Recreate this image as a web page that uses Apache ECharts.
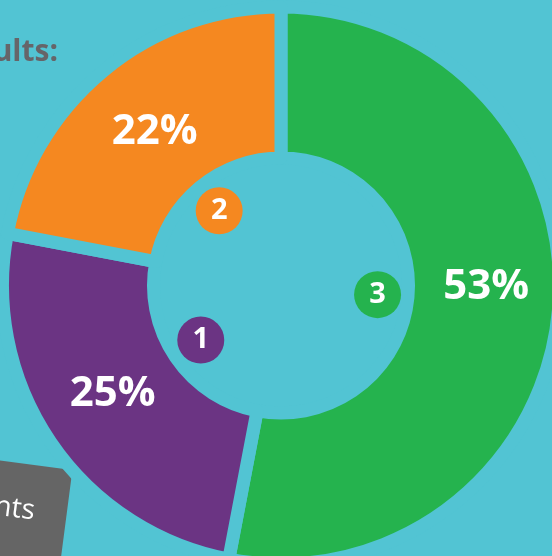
<!DOCTYPE html>
<html>
<head>
<meta charset="utf-8">
<script src="https://cdn.jsdelivr.net/npm/echarts@6/dist/echarts.min.js"></script>
<style>
    html, body { margin: 0; padding: 0; background: #52c4d3; }
    #chart { width: 552px; height: 556px; }
</style>
</head>
<body>
<div id="chart"></div>
<script>
// slices, clockwise from 12 o'clock
var badges = ['3', '1', '2'],
    shares = [53, 25, 22],
    colors = ['#25b34e', '#6b3483', '#f58820'];

var bg = '#52c4d3',
    cx = 281, cy = 285.5,
    total = shares.reduce(function (a, b) { return a + b; }, 0);

// badge points sit in the hole, at each slice's middle angle
var acc = 0,
    badgeData = shares.map(function (v, i) {
        var mid = acc + v / 2;
        acc += v;
        return {
            value: [97, mid / total * 100],
            itemStyle: {color: colors[i]},
            label: {formatter: badges[i]}
        };
    });

// nudge the big percentage labels a bit, like the original
var labelNudge = [[0, -18], [2, -7], [5, 5]];

var chart = echarts.init(document.getElementById('chart'));

chart.setOption({
    backgroundColor: bg,
    animation: false,
    polar: {center: [cx, cy], radius: 280},
    angleAxis: {type: 'value', min: 0, max: 100, startAngle: 90, clockwise: true, show: false},
    radiusAxis: {type: 'value', min: 0, max: 280, show: false},
    graphic: [
        {
            type: 'text', x: 58, y: 67,
            style: {
                text: 'Results:', fill: '#666569', font: 'bold 30px "Open Sans"',
                align: 'right', verticalAlign: 'bottom'
            }
        },
        {
            type: 'group', x: 3, y: 461, rotation: -0.13,
            children: [
                {type: 'rect', shape: {x: -200, y: 0, width: 270, height: 200, r: 10}, style: {fill: '#656565'}},
                {
                    type: 'text', x: 38, y: 46,
                    style: {text: 'Comments', fill: '#fff', font: '28px "Open Sans"', align: 'right', verticalAlign: 'middle'}
                }
            ]
        }
    ],
    series: [
        {
            type: 'pie',
            center: [cx, cy],
            radius: [127.5, 278.5],
            startAngle: 90,
            clockwise: true,
            silent: true,
            itemStyle: {borderColor: bg, borderWidth: 13},
            label: {
                position: 'inside',
                formatter: '{c}%',
                color: '#fff',
                fontFamily: 'Open Sans',
                fontWeight: 'bold',
                fontSize: 42
            },
            labelLayout: function (p) {
                var n = labelNudge[p.dataIndex];
                return {dx: n[0], dy: n[1]};
            },
            data: shares.map(function (v, i) {
                return {name: badges[i], value: v, itemStyle: {color: colors[i]}};
            })
        },
        {
            type: 'scatter',
            coordinateSystem: 'polar',
            symbol: 'circle',
            symbolSize: 47,
            silent: true,
            itemStyle: {opacity: 1},
            label: {
                show: true,
                position: 'inside',
                color: '#fff',
                fontFamily: 'Open Sans',
                fontWeight: 'bold',
                fontSize: 29
            },
            data: badgeData
        }
    ]
});
</script>
</body>
</html>
